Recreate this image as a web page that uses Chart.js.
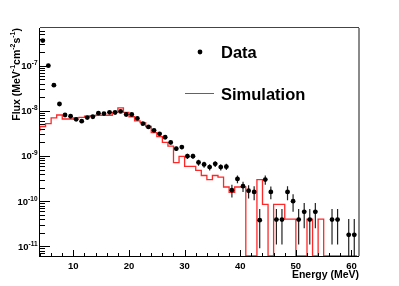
<!DOCTYPE html>
<html>
<head>
<meta charset="utf-8">
<script src="https://cdn.jsdelivr.net/npm/chart.js@4.4.0/dist/chart.umd.min.js"></script>
<style>
  html, body { margin: 0; padding: 0; background: #fff; }
  #wrap { width: 399px; height: 286px; }
</style>
</head>
<body>
<div id="wrap"><canvas id="fluxChart" width="399" height="286"></canvas></div>
<script>
// measured points (bin centres, MeV)
const dataEnergy = [4.5, 5.5, 6.5, 7.5, 8.5, 9.5, 10.5, 11.5, 12.5, 13.5, 14.5, 15.5, 16.5, 17.5,
    18.5, 19.5, 20.5, 21.5, 22.5, 23.5, 24.5, 25.5, 26.5, 27.5, 28.5, 29.5, 30.5, 31.5, 32.5, 33.5,
    34.5, 35.5, 36.5, 37.5, 38.5, 39.5, 40.5, 41.5, 42.5, 43.5, 44.5, 45.5, 46.5, 47.5, 48.5, 49.5,
    50.5, 51.5, 52.5, 53.5, 56.5, 57.5, 59.5, 60.5];
const dataFlux = [3.6e-7, 1.0e-7, 3.7e-8, 1.42e-8, 8.1e-9, 7.6e-9, 6.5e-9, 5.9e-9, 7.1e-9, 7.4e-9,
    8.9e-9, 8.7e-9, 9.3e-9, 9.2e-9, 9.7e-9, 8.3e-9, 8.3e-9, 6.8e-9, 5.2e-9, 4.4e-9, 3.7e-9, 3.1e-9,
    2.6e-9, 2.0e-9, 1.45e-9, 1.58e-9, 9.9e-10, 9.9e-10, 7.2e-10, 6.5e-10, 5.7e-10, 6.7e-10, 5.7e-10,
    5.8e-10, 1.75e-10, 3.1e-10, 2.15e-10, 1.7e-10, 1.6e-10, 3.8e-11, 3.0e-10, 1.6e-10, 3.9e-11,
    3.9e-11, 1.6e-10, 1.0e-10, 3.9e-11, 5.8e-11, 3.9e-11, 5.8e-11, 3.9e-11, 3.9e-11, 1.8e-11, 1.8e-11];
const dataErr = [1.0e-8, 3e-9, 1.2e-9, 5e-10, 3e-10, 3e-10, 2.5e-10, 2.5e-10, 3e-10, 3e-10,
    3.5e-10, 3.5e-10, 4e-10, 4e-10, 4e-10, 4e-10, 4e-10, 3.5e-10, 3e-10, 3e-10, 2.5e-10, 2.5e-10,
    2.2e-10, 2e-10, 1.6e-10, 1.7e-10, 1.3e-10, 1.3e-10, 1.1e-10, 1.0e-10, 9e-11, 1.0e-10, 9e-11,
    9e-11, 5.5e-11, 6e-11, 5.5e-11, 5.5e-11, 5.5e-11, 2.9e-11, 7e-11, 5e-11, 2.8e-11,
    2.8e-11, 5.5e-11, 4.2e-11, 2.8e-11, 3.3e-11, 2.8e-11, 3.3e-11, 2.8e-11, 2.8e-11, 2.2e-11, 2.2e-11];

// simulation histogram, 1 MeV bins from 4 to 61 MeV
const simLowEdge = 4;
const simFlux = [3.6e-9, 4.5e-9, 5.2e-9, 7.0e-9, 8.1e-9, 6.6e-9, 6.6e-9, 7.0e-9, 7.2e-9, 7.6e-9,
    7.8e-9, 8.0e-9, 8.0e-9, 8.0e-9, 9.3e-9, 1.17e-8, 9.3e-9, 7.4e-9, 6.0e-9, 5.5e-9, 4.5e-9, 3.3e-9,
    2.7e-9, 2.0e-9, 1.65e-9, 7.1e-10, 9.8e-10, 5.9e-10, 5.9e-10, 4.8e-10, 3.7e-10, 3.0e-10, 3.7e-10,
    3.4e-10, 2.06e-10, 1.57e-10, 2.06e-10, 2.06e-10, 0, 0, 3.0e-10, 8.5e-11, 0, 8.5e-11, 8.5e-11,
    4e-11, 4e-11, 0, 0, 4e-11, 0, 4e-11, 0, 0, 0, 0, 0];

const xTickLabels = [10, 20, 30, 40, 50, 60];
const yTickExponents = [-11, -10, -9, -8, -7];

const X_MIN = 4, X_MAX = 61.35;
const Y_MIN = 6.1e-12, Y_MAX = 6.84e-7;

const FONT = '"Liberation Sans", Arial, sans-serif';

const dataPoints = dataEnergy.map((e, i) => ({ x: e, y: dataFlux[i] }));
// empty bins sit on the bottom of the frame, like ROOT does
const simPoints = simFlux.map((v, i) => ({ x: simLowEdge + i, y: v > 0 ? v : Y_MIN }));
simPoints.push({ x: simLowEdge + simFlux.length, y: simPoints[simPoints.length - 1].y });

function drawSupText(ctx, parts, x, y, size, supSize, align) {
    // parts: [text, isSup]
    let w = 0;
    parts.forEach(p => {
        ctx.font = 'bold ' + (p[1] ? supSize : size) + 'px ' + FONT;
        w += ctx.measureText(p[0]).width;
    });
    let cx = align === 'right' ? x - w : x;
    parts.forEach(p => {
        ctx.font = 'bold ' + (p[1] ? supSize : size) + 'px ' + FONT;
        ctx.fillText(p[0], cx, p[1] ? y - size * 0.42 : y);
        cx += ctx.measureText(p[0]).width;
    });
}

const errorBars = {
    id: 'errorBars',
    afterDatasetDraw(chart, args) {
        if (args.index !== 1) return;
        const ctx = chart.ctx, xs = chart.scales.x, ys = chart.scales.y, area = chart.chartArea;
        ctx.save();
        ctx.beginPath();
        ctx.rect(area.left, area.top, area.right - area.left, area.bottom - area.top);
        ctx.clip();
        ctx.strokeStyle = '#222';
        ctx.lineWidth = 1.2;
        dataEnergy.forEach((e, i) => {
            const px = xs.getPixelForValue(e);
            const py = ys.getPixelForValue(dataFlux[i]);
            const lo = dataFlux[i] - dataErr[i];
            const top = ys.getPixelForValue(dataFlux[i] + dataErr[i]);
            const bot = lo > 0 ? ys.getPixelForValue(lo) : area.bottom;
            ctx.beginPath();
            ctx.moveTo(px, top);
            ctx.lineTo(px, bot);
            ctx.moveTo(xs.getPixelForValue(e - 0.35), py);
            ctx.lineTo(xs.getPixelForValue(e + 0.35), py);
            ctx.stroke();
        });
        ctx.restore();
    }
};

const rootFrame = {
    id: 'rootFrame',
    afterDraw(chart) {
        const ctx = chart.ctx, xs = chart.scales.x, ys = chart.scales.y, a = chart.chartArea;
        ctx.save();
        // frame
        ctx.lineWidth = 1;
        ctx.strokeStyle = '#444';
        ctx.beginPath();
        ctx.moveTo(a.left, a.top - 0.5);
        ctx.lineTo(a.right, a.top - 0.5);
        ctx.stroke();
        ctx.strokeStyle = '#8a8a8a';
        ctx.lineWidth = 2;
        ctx.beginPath();
        ctx.moveTo(a.right, a.top);
        ctx.lineTo(a.right, a.bottom);
        ctx.stroke();
        ctx.strokeStyle = '#000';
        ctx.lineWidth = 1;
        ctx.beginPath();
        ctx.moveTo(a.left - 0.5, a.top);
        ctx.lineTo(a.left - 0.5, a.bottom + 1);
        ctx.moveTo(a.left - 1, a.bottom + 0.5);
        ctx.lineTo(a.right, a.bottom + 0.5);
        ctx.stroke();

        // x ticks, minor every 2 MeV
        ctx.beginPath();
        for (let v = 4; v <= xs.max; v += 2) {
            const px = Math.round(xs.getPixelForValue(v)) + 0.5;
            const len = v % 10 === 0 ? 6 : 3;
            ctx.moveTo(px, a.bottom);
            ctx.lineTo(px, a.bottom - len);
        }
        // y ticks, log
        for (let d = -12; d <= -6; d++) {
            for (let m = 1; m <= 9; m++) {
                const v = m * Math.pow(10, d);
                if (v < ys.min || v > ys.max) continue;
                const py = Math.round(ys.getPixelForValue(v)) + 0.5;
                ctx.moveTo(a.left, py);
                ctx.lineTo(a.left + (m === 1 ? 10 : 5), py);
            }
        }
        ctx.stroke();

        // tick labels
        ctx.fillStyle = '#000';
        ctx.textBaseline = 'alphabetic';
        ctx.font = 'bold 9.5px ' + FONT;
        ctx.textAlign = 'center';
        xTickLabels.forEach(v => {
            ctx.fillText(String(v), xs.getPixelForValue(v), 268.5);
        });
        ctx.textAlign = 'left';
        yTickExponents.forEach(ex => {
            const py = ys.getPixelForValue(Math.pow(10, ex));
            drawSupText(ctx, [['10', false], [String(ex), true]], 37.5, py + 3.4, 9.5, 6.5, 'right');
        });

        // axis titles
        drawSupText(ctx, [['Energy (MeV)', false]], a.right, 277.5, 10.5, 7, 'right');
        ctx.save();
        ctx.translate(19.5, a.top);
        ctx.rotate(-Math.PI / 2);
        drawSupText(ctx, [['Flux (MeV', false], ['-1', true], ['cm', false], ['-2', true],
            ['s', false], ['-1', true], [')', false]], 0, 0, 10.5, 7, 'right');
        ctx.restore();

        // legend
        ctx.fillStyle = '#000';
        ctx.beginPath();
        ctx.arc(200, 52, 2.4, 0, Math.PI * 2);
        ctx.fill();
        ctx.strokeStyle = '#ff2020';
        ctx.lineWidth = 1;
        ctx.beginPath();
        ctx.moveTo(185, 93.5);
        ctx.lineTo(214, 93.5);
        ctx.stroke();
        ctx.font = 'bold 16.5px ' + FONT;
        ctx.textAlign = 'left';
        ctx.fillText('Data', 221, 58.3);
        ctx.fillText('Simulation', 221, 99.7);
        ctx.restore();
    }
};

const ctx = document.getElementById('fluxChart').getContext('2d');
const fluxChart = new Chart(ctx, {
    type: 'scatter',
    data: {
        datasets: [{
            label: 'Data',
            data: dataPoints,
            pointRadius: 2.4,
            pointBackgroundColor: '#000',
            pointBorderWidth: 0,
            showLine: false
        }, {
            label: 'Simulation',
            type: 'line',
            data: simPoints,
            stepped: 'after',
            borderColor: 'rgb(255, 40, 40)',
            borderWidth: 1.3,
            pointRadius: 0,
            fill: false
        }]
    },
    options: {
        responsive: false,
        animation: false,
        layout: { padding: { left: 40, top: 28, right: 40, bottom: 30 } },
        plugins: { legend: { display: false }, tooltip: { enabled: false } },
        scales: {
            x: { type: 'linear', min: X_MIN, max: X_MAX, display: false },
            y: { type: 'logarithmic', min: Y_MIN, max: Y_MAX, display: false }
        }
    },
    plugins: [errorBars, rootFrame]
});
</script>
</body>
</html>
